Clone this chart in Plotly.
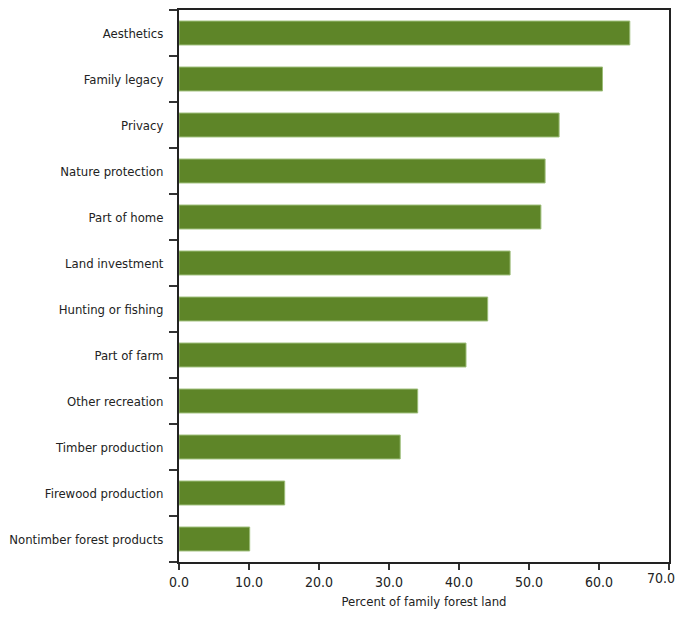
import plotly.graph_objects as go

categories = ["Aesthetics", "Family legacy", "Privacy", "Nature protection", "Part of home",
              "Land investment", "Hunting or fishing", "Part of farm", "Other recreation",
              "Timber production", "Firewood production", "Nontimber forest products"]
values = [64.4, 60.5, 54.3, 52.3, 51.7, 47.3, 44.1, 41.0, 34.1, 31.6, 15.1, 10.1]
x_ticks = [0, 10, 20, 30, 40, 50, 60, 70]
x_ticklabels = ["0.0", "10.0", "20.0", "30.0", "40.0", "50.0", "60.0", "70.0"]

font = "DejaVu Sans Condensed, Liberation Sans Narrow, sans-serif"

fig = go.Figure(go.Bar(
    y=categories[::-1], x=values[::-1], orientation="h",
    marker=dict(color="#5e8528", line=dict(color="#9cbd78", width=1)),
    width=0.52,
))

# page body has an 8px margin, so the figure is sized/offset to land where the reference does
fig.update_layout(
    width=677, height=602,
    margin=dict(l=171, r=16, t=2, b=48, autoexpand=False),
    plot_bgcolor="white", paper_bgcolor="white",
    font=dict(family=font, size=13, color="#222"),
    showlegend=False,
)
# last tick label drawn as an annotation nudged left so it is not clipped at the page edge
fig.add_annotation(
    x=x_ticks[-1], xref="x", y=0, yref="paper", text=x_ticklabels[-1],
    showarrow=False, xanchor="center", yanchor="top", xshift=-8, yshift=-6,
    font=dict(size=14, family=font, color="#222"),
)
fig.update_xaxes(
    range=[0, 70], tickvals=x_ticks, ticktext=x_ticklabels[:-1] + [""],
    ticks="outside", ticklen=6, tickcolor="#333", tickwidth=1.5,
    showline=True, linecolor="#222", linewidth=2, mirror=True,
    showgrid=False, zeroline=False, automargin=False,
    title=dict(text="Percent of family forest land", font=dict(size=13), standoff=8),
    tickfont=dict(size=14),
)
fig.update_yaxes(
    tickson="boundaries", ticks="outside", ticklen=8, tickcolor="#333", tickwidth=2,
    showline=True, linecolor="#222", linewidth=2, mirror=True,
    showgrid=False, range=[-0.5, 11.5], automargin=False,
    tickfont=dict(size=13), ticklabelstandoff=11,
)

fig.write_html("out.html")
